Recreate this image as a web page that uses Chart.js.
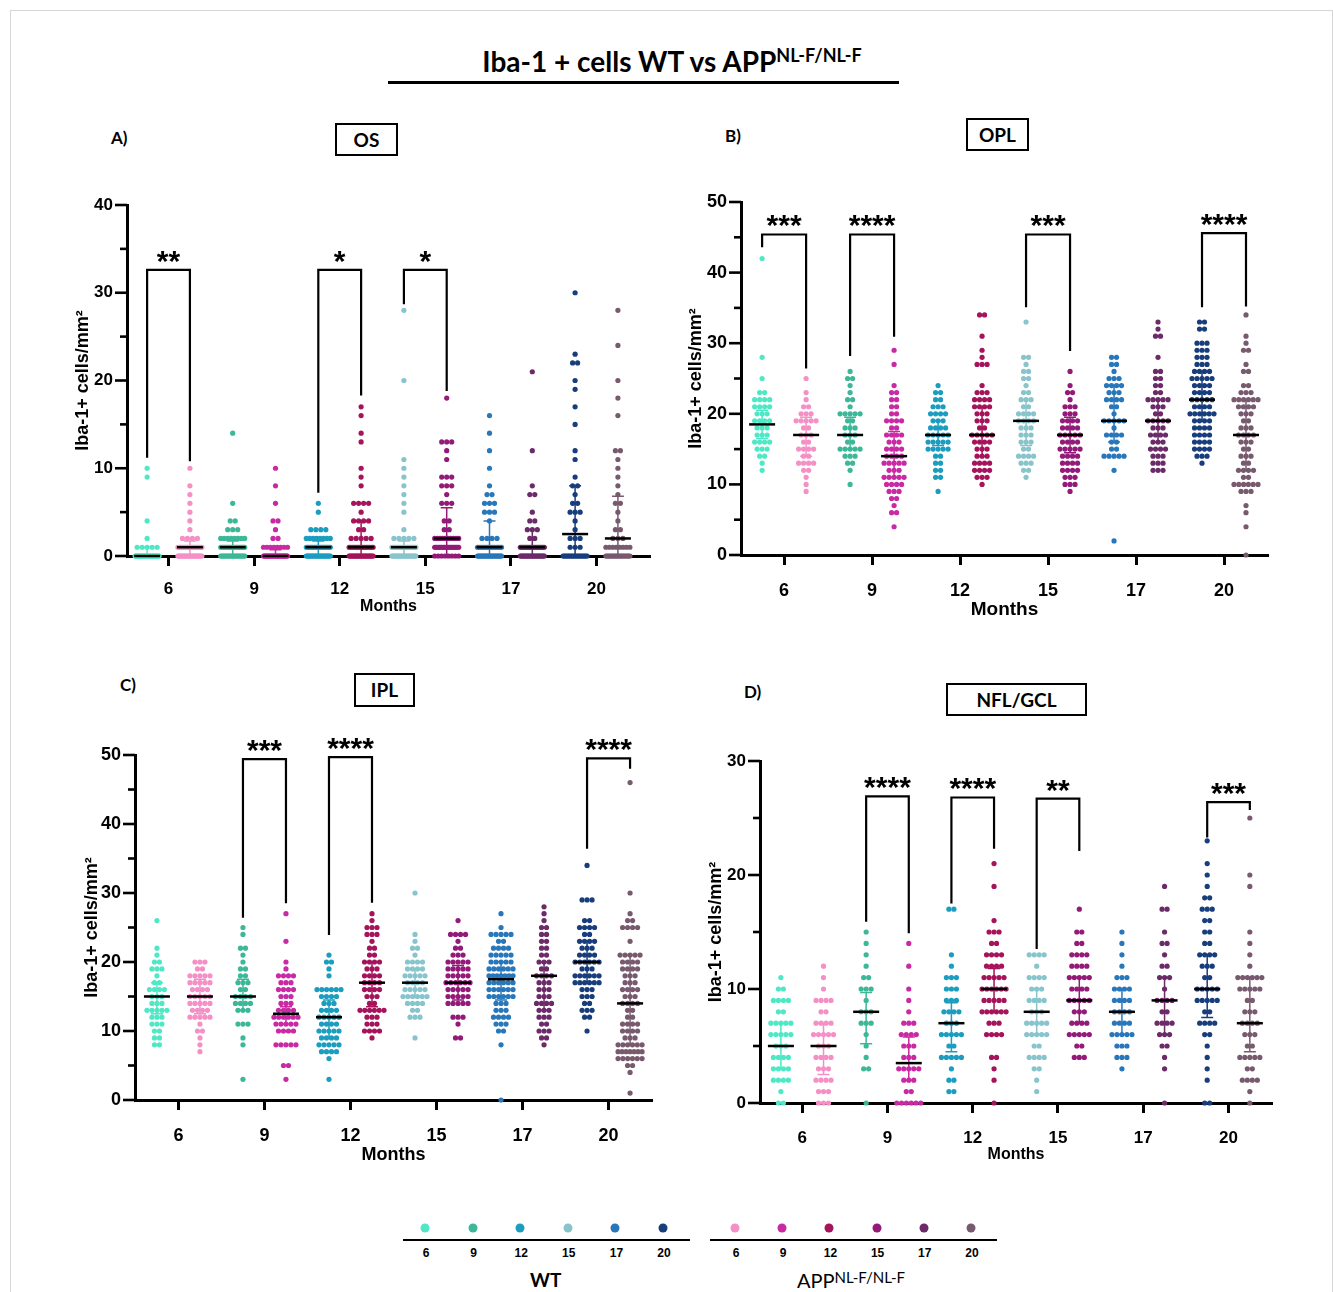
<!DOCTYPE html>
<html>
<head>
<meta charset="utf-8">
<script src="https://cdn.jsdelivr.net/npm/chart.js@4.4.1/dist/chart.umd.min.js"></script>
<style>
  body { margin: 0; background: #fff; width: 1333px; height: 1292px; position: relative; overflow: hidden; font-family: 'Liberation Sans', Arial, sans-serif; }
  .frame { position: absolute; left: 10px; top: 10px; width: 1321px; height: 1300px; border: 1px solid #d6d6d6; }
  .abs { position: absolute; white-space: nowrap; }
  canvas { position: absolute; }
  .title { left: 372px; top: 46px; width: 600px; text-align: center; font: 700 28px Lato, sans-serif; line-height: 30px; }
  .title sup { font-size: 18px; vertical-align: 10px; line-height: 0; }
  .rule { position: absolute; left: 388px; top: 81px; width: 511px; height: 3px; background: #000; }
  .letter { font: 700 17px Lato, sans-serif; }
  .box { border: 2px solid #000; box-sizing: border-box; text-align: center; font: 700 19px Lato, sans-serif; }
  .lg-num { font: 700 12px 'Liberation Sans Narrow', 'Liberation Sans', sans-serif; transform: translateX(-50%); }
  .lg-dot { width: 9px; height: 9px; border-radius: 50%; transform: translate(-50%, -50%); }
  .lg-line { height: 2px; background: #000; }
</style>
</head>
<body>
<div class="frame"></div>
<div class="abs title">Iba-1 + cells WT vs APP<sup>NL-F/NL-F</sup></div>
<div class="rule"></div>

<div class="abs letter" style="left:111px;top:127px">A)</div>
<div class="abs box" style="left:335px;top:123px;width:63px;height:33px;line-height:29px">OS</div>
<div class="abs letter" style="left:725px;top:125px">B)</div>
<div class="abs box" style="left:966px;top:118px;width:63px;height:33px;line-height:29px">OPL</div>
<div class="abs letter" style="left:120px;top:674px">C)</div>
<div class="abs box" style="left:354px;top:673px;width:61px;height:34px;line-height:30px">IPL</div>
<div class="abs letter" style="left:744px;top:681px">D)</div>
<div class="abs box" style="left:946px;top:683px;width:141px;height:33px;line-height:29px">NFL/GCL</div>

<canvas id="chartOS" width="610" height="450" style="left:60px;top:180px"></canvas>
<canvas id="chartOPL" width="615" height="460" style="left:675px;top:170px"></canvas>
<canvas id="chartIPL" width="600" height="460" style="left:70px;top:715px"></canvas>
<canvas id="chartNFL" width="600" height="455" style="left:690px;top:720px"></canvas>

<div id="legend"></div>

<script>
// Months on the x axis, one WT and one APP group per month
const months = ['6', '9', '12', '15', '17', '20'];
const wtColors = ['#4fe8c6', '#3cb898', '#1b9dc0', '#88c4cc', '#2877ba', '#183d7d'];
const appColors = ['#f590c6', '#c92aa4', '#a5135a', '#931a78', '#6c2b68', '#785a6f'];

// Each group is a list of [value, number of dots]; order: WT6, APP6, WT9, APP9, ... WT20, APP20
const osCounts = [
    [[10,1],[9,1],[4,1],[2,1],[1,5],[0,40]],
    [[10,1],[8,1],[7,1],[6,1],[5,1],[4,1],[3,1],[2,4],[1,20],[0,25]],
    [[14,1],[6,1],[4,2],[3,3],[2,8],[1,20],[0,22]],
    [[10,1],[8,1],[6,1],[4,2],[3,1],[2,2],[1,8],[0,35]],
    [[6,1],[5,1],[3,4],[2,8],[1,20],[0,25]],
    [[17,1],[16,1],[14,1],[13,1],[10,1],[9,1],[8,1],[6,4],[5,1],[4,4],[3,2],[2,5],[1,15],[0,25]],
    [[28,1],[20,1],[11,1],[10,1],[9,1],[8,1],[7,1],[6,1],[5,1],[3,1],[2,5],[1,18],[0,25]],
    [[18,1],[13,3],[12,1],[11,1],[9,3],[8,3],[7,1],[6,3],[4,2],[3,2],[2,10],[1,18],[0,8]],
    [[16,1],[14,1],[12,1],[10,1],[8,1],[7,2],[6,3],[5,3],[4,1],[2,4],[1,15],[0,25]],
    [[21,1],[12,1],[8,1],[7,2],[5,1],[4,2],[3,3],[2,2],[1,18],[0,25]],
    [[30,1],[23,1],[22,2],[20,1],[19,1],[17,1],[15,1],[12,1],[11,1],[9,1],[8,2],[7,1],[6,2],[5,3],[4,1],[3,1],[2,3],[1,3],[0,20]],
    [[28,1],[24,1],[20,1],[18,1],[16,1],[12,2],[11,1],[10,1],[9,1],[8,1],[7,1],[6,2],[5,1],[4,1],[3,2],[2,3],[1,8],[0,20]]
];
const osMedians = [0, 1, 1, 0, 1, 1, 1, 2, 1, 1, 2.5, 2];
const osErrLow = [0, 0, 0, 0, 0, 0, 0, 0, 0, 0, 0, 0];
const osErrHigh = [1, 1.7, 1.7, 0.7, 1.7, 4, 1.7, 5.5, 4, 3, 8, 6.8];
// [left group, right group, bracket top, left leg end, right leg end, label]
const osBrackets = [[0, 1, 32.6, 11.2, 10.8, '**'], [4, 5, 32.6, 7.2, 18.3, '*'], [6, 7, 32.6, 28.7, 18.8, '*']];

const oplCounts = [
    [[42,1],[28,1],[25,1],[23,2],[22,4],[21,4],[20,3],[19,4],[18,3],[17,3],[16,4],[15,3],[14,2],[13,1],[12,1]],
    [[25,1],[23,1],[22,1],[21,2],[20,3],[19,5],[18,2],[17,3],[16,2],[15,4],[14,2],[13,4],[12,2],[11,1],[10,1],[9,1]],
    [[26,1],[25,2],[24,1],[23,1],[22,2],[21,1],[20,5],[19,2],[18,3],[17,3],[16,2],[15,5],[14,3],[13,2],[12,1],[10,1]],
    [[29,1],[27,1],[24,1],[23,2],[22,2],[21,2],[20,2],[19,4],[18,2],[17,4],[16,3],[15,4],[14,4],[13,5],[12,3],[11,5],[10,4],[9,3],[8,2],[7,1],[6,2],[4,1]],
    [[24,1],[23,2],[22,2],[21,3],[20,4],[19,3],[18,4],[17,5],[16,5],[15,5],[14,2],[13,2],[12,2],[11,2],[9,1]],
    [[34,2],[31,1],[29,1],[28,1],[27,3],[24,1],[23,3],[22,4],[21,4],[20,3],[19,3],[18,2],[17,5],[16,4],[15,3],[14,3],[13,4],[12,4],[11,3],[10,1]],
    [[33,1],[28,2],[27,1],[26,2],[25,2],[24,1],[23,2],[22,3],[21,2],[20,4],[19,4],[18,3],[17,3],[16,3],[15,2],[14,4],[13,3],[12,2],[11,1]],
    [[26,1],[24,1],[23,2],[22,1],[21,3],[20,3],[19,4],[18,4],[17,5],[16,4],[15,5],[14,4],[13,4],[12,4],[11,3],[10,3],[9,1]],
    [[28,2],[27,2],[26,1],[25,3],[24,4],[23,3],[22,4],[21,2],[20,1],[19,5],[18,1],[17,4],[16,2],[15,2],[14,5],[12,1],[2,1]],
    [[33,1],[32,1],[31,2],[28,1],[26,2],[25,2],[24,2],[23,2],[22,5],[21,3],[20,2],[19,5],[18,3],[17,4],[16,3],[15,4],[14,3],[13,3],[12,3]],
    [[33,2],[32,2],[30,3],[29,3],[28,3],[27,3],[26,4],[25,5],[24,4],[23,4],[22,5],[21,4],[20,6],[19,4],[18,4],[17,4],[16,4],[15,4],[14,3],[13,1]],
    [[34,1],[31,1],[30,1],[29,2],[27,1],[26,2],[24,2],[23,3],[22,6],[21,4],[20,3],[19,2],[18,3],[17,4],[16,3],[15,2],[14,3],[13,2],[12,4],[11,2],[10,6],[9,3],[7,1],[6,1],[4,1],[0,1]]
];
const oplMedians = [18.5, 17, 17, 14, 17, 17, 19, 17, 19, 19, 22, 17];
const oplErrLow = [16.5, 14, 15, 11, 15.5, 14, 15.5, 14.5, 16, 16, 19, 12];
const oplErrHigh = [20.5, 19.5, 19.5, 17.5, 19, 21, 22, 19.5, 24, 22, 26, 22];
const oplBrackets = [[0, 1, 45.4, 43.6, 26.4, '***'], [2, 3, 45.4, 28.2, 30.9, '****'], [6, 7, 45.4, 35.1, 28.9, '***'], [10, 11, 45.6, 35.1, 35.2, '****']];

const iplCounts = [
    [[26,1],[22,1],[21,1],[20,2],[19,3],[18,1],[17,2],[16,4],[15,3],[14,3],[13,5],[12,3],[11,3],[10,2],[9,2],[8,2]],
    [[20,3],[19,2],[18,5],[17,5],[16,4],[15,5],[14,5],[13,4],[12,5],[11,1],[10,2],[9,1],[8,1],[7,1]],
    [[25,1],[24,1],[22,2],[21,1],[20,1],[19,2],[18,2],[17,3],[16,2],[15,4],[14,4],[13,3],[11,3],[9,1],[8,1],[3,1]],
    [[27,1],[23,1],[20,1],[19,1],[18,4],[17,3],[16,4],[15,3],[14,3],[13,4],[12,6],[11,5],[10,4],[8,5],[5,2],[3,1]],
    [[21,1],[20,2],[19,1],[18,1],[16,6],[15,4],[14,3],[13,4],[12,5],[11,4],[10,5],[9,4],[8,5],[7,4],[6,1],[3,1]],
    [[27,1],[26,1],[25,3],[24,3],[23,1],[22,2],[21,2],[20,4],[19,3],[18,4],[17,4],[16,4],[15,3],[14,2],[13,6],[12,3],[11,3],[10,4],[9,1]],
    [[30,1],[24,1],[23,1],[22,2],[21,1],[20,4],[19,4],[18,5],[17,4],[16,5],[15,6],[14,4],[13,2],[12,3],[9,1]],
    [[26,1],[24,4],[23,1],[22,2],[21,3],[20,5],[19,5],[18,5],[17,6],[16,5],[15,5],[14,5],[12,3],[11,1],[9,2]],
    [[27,1],[25,1],[24,5],[23,2],[22,4],[21,5],[20,5],[19,6],[18,7],[17,6],[16,6],[15,6],[14,3],[13,3],[12,4],[11,3],[10,2],[8,1],[0,1]],
    [[28,1],[27,1],[26,1],[25,2],[24,2],[23,2],[22,2],[21,2],[20,3],[19,2],[18,4],[17,3],[16,3],[15,3],[14,4],[13,3],[12,3],[11,2],[10,3],[9,2],[8,1]],
    [[34,1],[29,3],[26,2],[25,4],[24,2],[23,4],[22,3],[21,4],[20,6],[19,3],[18,6],[17,6],[16,3],[15,3],[14,2],[13,3],[12,2],[10,1]],
    [[46,1],[30,1],[27,1],[26,2],[25,4],[23,1],[21,5],[20,4],[19,4],[18,3],[17,3],[16,4],[15,3],[14,4],[13,2],[12,2],[11,4],[10,4],[9,3],[8,6],[7,7],[6,6],[5,2],[4,1],[1,1]]
];
const iplMedians = [15, 15, 15, 12.5, 12, 17, 17, 17, 17.5, 18, 20, 14];
const iplErrLow = [12.5, 12.5, 13, 11, 9, 13.5, 15, 14.5, 14.5, 13, 17, 8];
const iplErrHigh = [17, 17.5, 17.5, 13.5, 14.5, 20, 19, 19.5, 20, 20, 23, 21];
const iplBrackets = [[2, 3, 49.4, 26.4, 28.5, '***'], [4, 5, 49.7, 23.9, 28.6, '****'], [10, 11, 49.5, 36.4, 48, '****']];

const nflCounts = [
    [[11,1],[10,2],[9,4],[8,2],[7,5],[6,5],[5,3],[4,4],[3,4],[2,4],[1,1],[0,2]],
    [[12,1],[11,1],[10,1],[9,4],[8,2],[7,4],[6,5],[5,3],[4,4],[3,3],[2,4],[1,3],[0,3]],
    [[15,1],[14,1],[13,1],[12,1],[11,2],[10,3],[9,1],[8,3],[7,3],[6,1],[5,1],[4,1],[3,2],[0,1]],
    [[14,1],[12,1],[10,1],[9,1],[8,1],[7,3],[6,4],[5,3],[4,3],[3,5],[2,3],[1,2],[0,6]],
    [[17,2],[13,1],[12,1],[11,3],[10,3],[9,3],[8,4],[7,3],[6,5],[5,2],[4,5],[3,1],[2,2],[1,2]],
    [[21,1],[19,1],[16,1],[15,3],[14,2],[13,4],[12,4],[11,5],[10,6],[9,5],[8,6],[7,3],[6,4],[4,2],[3,1],[2,1],[0,1]],
    [[13,4],[12,1],[11,4],[10,3],[9,4],[8,3],[7,5],[6,5],[5,2],[4,4],[3,2],[2,1],[1,1]],
    [[17,1],[15,2],[14,2],[13,4],[12,4],[11,5],[10,4],[9,5],[8,3],[7,4],[6,5],[5,2],[4,3]],
    [[15,1],[14,1],[13,1],[12,1],[11,3],[10,4],[9,4],[8,4],[7,4],[6,5],[5,3],[4,3],[3,1]],
    [[19,1],[17,2],[15,1],[14,2],[13,1],[12,2],[11,3],[10,1],[9,4],[8,2],[7,4],[6,3],[5,2],[4,1],[3,1],[0,1]],
    [[23,1],[21,1],[20,1],[19,1],[18,2],[17,3],[16,2],[15,2],[14,2],[13,4],[12,3],[11,2],[10,5],[9,5],[8,2],[7,4],[6,2],[5,1],[4,1],[3,1],[2,1],[0,2]],
    [[25,1],[20,1],[19,1],[15,1],[14,1],[13,1],[12,1],[11,6],[10,5],[9,2],[8,3],[7,4],[6,3],[5,2],[4,5],[3,2],[2,4],[1,1],[0,1]]
];
const nflMedians = [5, 5, 8, 3.5, 7, 10, 8, 9, 8, 9, 10, 7];
const nflErrLow = [3, 2.5, 5.2, 2, 4.5, 8, 6, 7, 6, 6, 7.5, 4.5];
const nflErrHigh = [7, 7, 9.7, 5.8, 8.8, 11.8, 10, 11, 10, 11, 13, 11];
const nflBrackets = [[2, 3, 26.9, 15.9, 14.9, '****'], [4, 5, 26.8, 17.5, 22.3, '****'], [6, 7, 26.7, 13.5, 22.1, '**'], [10, 11, 26.4, 23.3, 25.7, '***']];

const DOT_STEP = 5;     // px between dots in a row
const MAX_ROW = 24;     // widest a row may get, px
const AXIS_FONT = "'Liberation Sans', Arial, sans-serif";

function groupColor(g) {
    return g % 2 === 0 ? wtColors[g / 2] : appColors[(g - 1) / 2];
}

// medians, error bars, significance brackets and y ticks
const panelMarks = {
    id: 'panelMarks',
    afterDatasetsDraw(chart, args, opts) {
        const { ctx, scales: { x, y }, chartArea } = chart;
        ctx.save();
        ctx.lineCap = 'butt';

        // y ticks, long at labelled values
        ctx.strokeStyle = '#000';
        ctx.lineWidth = 2.6;
        for (let v = 0; v <= opts.yMax; v += 5) {
            const py = y.getPixelForValue(v);
            const len = v % 10 === 0 ? 12 : 7;
            ctx.beginPath();
            ctx.moveTo(chartArea.left - len, py);
            ctx.lineTo(chartArea.left, py);
            ctx.stroke();
        }

        // error bars
        opts.errLow.forEach((lo, g) => {
            const px = x.getPixelForValue(g);
            const pLo = y.getPixelForValue(lo), pHi = y.getPixelForValue(opts.errHigh[g]);
            ctx.strokeStyle = groupColor(g);
            ctx.lineWidth = 1.5;
            ctx.beginPath();
            ctx.moveTo(px, pLo); ctx.lineTo(px, pHi);
            ctx.moveTo(px - 6, pHi); ctx.lineTo(px + 6, pHi);
            if (lo > 0) { ctx.moveTo(px - 6, pLo); ctx.lineTo(px + 6, pLo); }
            ctx.stroke();
        });

        // medians
        ctx.strokeStyle = '#000';
        ctx.lineWidth = 2.5;
        opts.medians.forEach((m, g) => {
            const px = x.getPixelForValue(g), py = y.getPixelForValue(m);
            ctx.beginPath();
            ctx.moveTo(px - 13, py); ctx.lineTo(px + 13, py);
            ctx.stroke();
        });

        // brackets with stars
        ctx.lineWidth = 2.2;
        ctx.fillStyle = '#000';
        ctx.font = 'bold 30px ' + AXIS_FONT;
        ctx.textAlign = 'center';
        ctx.textBaseline = 'alphabetic';
        opts.brackets.forEach(([a, b, top, la, ra, label]) => {
            const xa = x.getPixelForValue(a), xb = x.getPixelForValue(b);
            const yt = y.getPixelForValue(top);
            ctx.beginPath();
            ctx.moveTo(xa, y.getPixelForValue(la));
            ctx.lineTo(xa, yt);
            ctx.lineTo(xb, yt);
            ctx.lineTo(xb, y.getPixelForValue(ra));
            ctx.stroke();
            ctx.fillText(label, (xa + xb) / 2, yt + 1);
        });
        ctx.restore();
    }
};

function makePanel(id, geo, counts, medians, errLow, errHigh, brackets, yMax) {
    const pxPerUnit = (geo.ar - geo.al) / (geo.xMax - geo.xMin);
    const datasets = counts.map((rows, g) => {
        const pts = [];
        rows.forEach(([v, n]) => {
            const step = n > 1 ? Math.min(DOT_STEP, MAX_ROW / (n - 1)) : 0;
            for (let i = 0; i < n; i++) {
                pts.push({ x: g + (i - (n - 1) / 2) * step / pxPerUnit, y: v });
            }
        });
        return {
            data: pts,
            backgroundColor: groupColor(g),
            pointRadius: 2.6,
            pointHoverRadius: 2.6,
            borderWidth: 0,
            clip: false
        };
    });

    const tickSlots = months.map((m, i) => i * 2 + 0.5);

    new Chart(document.getElementById(id), {
        type: 'scatter',
        data: { datasets: datasets },
        options: {
            responsive: false,
            animation: false,
            events: [],
            layout: { padding: { left: 0, top: geo.at - geo.ct, right: geo.cl + geo.cw - geo.ar, bottom: 0 } },
            plugins: {
                legend: { display: false },
                tooltip: { enabled: false },
                panelMarks: { medians: medians, errLow: errLow, errHigh: errHigh, brackets: brackets, yMax: yMax }
            },
            scales: {
                x: {
                    type: 'linear',
                    min: geo.xMin,
                    max: geo.xMax,
                    afterFit: (s) => { s.height = geo.ct + geo.ch - geo.ab; },
                    afterBuildTicks: (s) => { s.ticks = tickSlots.map(v => ({ value: v })); },
                    ticks: {
                        callback: (v, i) => months[i],
                        color: '#000',
                        font: { family: AXIS_FONT, size: geo.xTickSize, weight: 'bold' },
                        padding: geo.tickPad,
                        maxRotation: 0,
                        autoSkip: false
                    },
                    grid: { drawOnChartArea: false, drawTicks: true, tickLength: 10, tickWidth: 3, tickColor: '#000' },
                    border: { display: true, color: '#000', width: 3 },
                    title: {
                        display: true, text: 'Months', color: '#000',
                        font: { family: AXIS_FONT, size: geo.xTitleSize, weight: 'bold' },
                        padding: { top: 0, bottom: geo.xTitlePad }
                    }
                },
                y: {
                    min: 0,
                    max: yMax,
                    afterFit: (s) => { s.width = geo.al - geo.cl; },
                    ticks: {
                        stepSize: 5,
                        callback: (v) => (v % 10 === 0 ? v : ''),
                        color: '#000',
                        font: { family: AXIS_FONT, size: geo.yTickSize, weight: 'bold' },
                        padding: 2
                    },
                    grid: { drawOnChartArea: false, drawTicks: true, tickLength: 12, tickColor: 'rgba(0,0,0,0)' },
                    border: { display: true, color: '#000', width: 3 },
                    title: {
                        display: true, text: 'Iba-1+ cells/mm²', color: '#000',
                        font: { family: AXIS_FONT, size: 18, weight: 'bold' },
                        padding: { top: geo.yTitlePad, bottom: 0 }
                    }
                }
            }
        },
        plugins: [panelMarks]
    });
}

makePanel('chartOS',
    { cl: 60, ct: 180, cw: 610, ch: 450, al: 127, ar: 650, at: 205, ab: 556, xMin: -0.47, xMax: 11.75,
      yTitlePad: 12, xTitlePad: 14, tickPad: 13, yTickSize: 17, xTickSize: 17, xTitleSize: 16 },
    osCounts, osMedians, osErrLow, osErrHigh, osBrackets, 40);

makePanel('chartOPL',
    { cl: 675, ct: 170, cw: 615, ch: 460, al: 741, ar: 1268, at: 202, ab: 555, xMin: -0.48, xMax: 11.5,
      yTitlePad: 10, xTitlePad: 9, tickPad: 15, yTickSize: 18, xTickSize: 18, xTitleSize: 19 },
    oplCounts, oplMedians, oplErrLow, oplErrHigh, oplBrackets, 50);

makePanel('chartIPL',
    { cl: 70, ct: 715, cw: 600, ch: 460, al: 135, ar: 652, at: 755, ab: 1100, xMin: -0.51, xMax: 11.51,
      yTitlePad: 11, xTitlePad: 9, tickPad: 15, yTickSize: 18, xTickSize: 18, xTitleSize: 18 },
    iplCounts, iplMedians, iplErrLow, iplErrHigh, iplBrackets, 50);

makePanel('chartNFL',
    { cl: 690, ct: 720, cw: 600, ch: 455, al: 760, ar: 1272, at: 761, ab: 1103, xMin: -0.49, xMax: 11.52,
      yTitlePad: 15, xTitlePad: 11, tickPad: 15, yTickSize: 17, xTickSize: 17, xTitleSize: 16 },
    nflCounts, nflMedians, nflErrLow, nflErrHigh, nflBrackets, 30);

// bottom legend: one dot per month for each genotype
function legendRow(colors, x0, step, lineLeft, lineWidth, caption, captionLeft, isApp) {
    const root = document.getElementById('legend');
    const line = document.createElement('div');
    line.className = 'abs lg-line';
    line.style.cssText = `left:${lineLeft}px;top:1239px;width:${lineWidth}px`;
    root.appendChild(line);
    colors.forEach((c, i) => {
        const dot = document.createElement('div');
        dot.className = 'abs lg-dot';
        dot.style.cssText = `left:${x0 + i * step}px;top:1228px;background:${c}`;
        root.appendChild(dot);
        const num = document.createElement('div');
        num.className = 'abs lg-num';
        num.style.cssText = `left:${x0 + 1 + i * step}px;top:1246px`;
        num.textContent = months[i];
        root.appendChild(num);
    });
    const cap = document.createElement('div');
    cap.className = 'abs';
    cap.style.cssText = `left:${captionLeft}px;top:1268px;font:${isApp ? '400 20px' : '700 19px'} Lato, sans-serif`;
    cap.innerHTML = caption;
    root.appendChild(cap);
}
legendRow(wtColors, 425, 47.6, 403, 287, 'WT', 530, false);
legendRow(appColors, 735, 47.2, 710, 287, 'APP<span style="font-size:15px;position:relative;top:-5px">NL-F/NL-F</span>', 797, true);
</script>
</body>
</html>
